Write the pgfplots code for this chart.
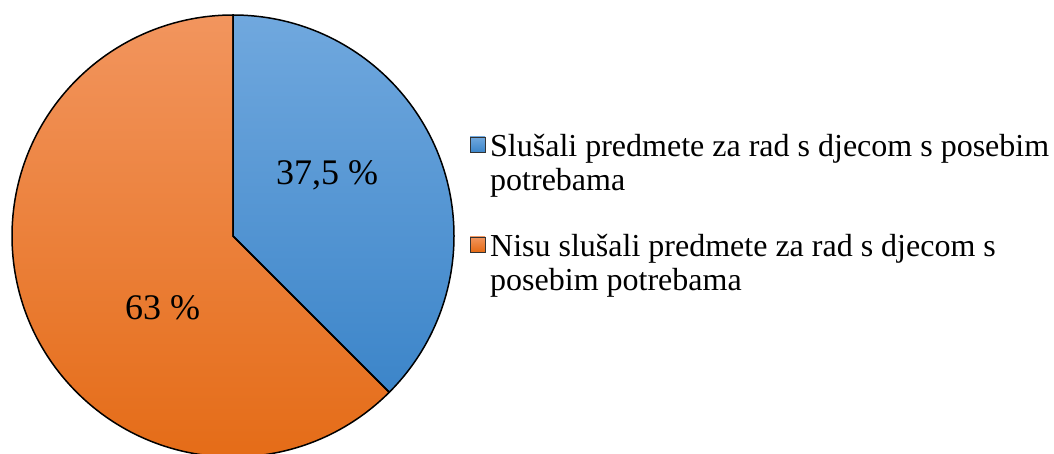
\documentclass[border=0pt]{standalone}
\usepackage{pgfplots}
\pgfplotsset{compat=1.18}
\usepackage{pgfplotstable}
\usepackage{fontspec}
\setmainfont{Liberation Serif}
\definecolor{bluetop}{HTML}{70A8DE}
\definecolor{bluebot}{HTML}{3C85C9}
\definecolor{orangetop}{HTML}{F2955E}
\definecolor{orangebot}{HTML}{E46A14}
\pgfplotstableread{
share
37.5
62.5
}\piedata
\begin{document}
\begin{tikzpicture}
\pgfplotstablegetelem{0}{share}\of\piedata \let\shareA\pgfplotsretval
\pgfplotstablegetelem{1}{share}\of\piedata \let\shareB\pgfplotsretval
\pgfmathsetmacro{\angA}{90-3.6*\shareA}
\pgfmathsetmacro{\angB}{\angA-3.6*\shareB}
\begin{axis}[width=1054pt,height=454pt,scale only axis,
  xmin=0,xmax=1054,ymin=0,ymax=454,axis lines=none,clip=true]
\fill[top color=bluetop,bottom color=bluebot]
  (axis cs:233,218) -- ++(90:221pt) arc[start angle=90,end angle=\angA,radius=221pt] -- cycle;
\fill[top color=orangetop,bottom color=orangebot]
  (axis cs:233,218) -- ++(\angA:221pt) arc[start angle=\angA,end angle=\angB,radius=221pt] -- cycle;
\draw[line width=1.5pt,line join=round]
  (axis cs:233,218) -- ++(90:221pt) arc[start angle=90,end angle=\angA,radius=221pt] -- cycle;
\draw[line width=1.5pt,line join=round]
  (axis cs:233,218) -- ++(\angA:221pt) arc[start angle=\angA,end angle=\angB,radius=221pt] -- cycle;
\node[anchor=base,font=\fontsize{36}{40}\selectfont] at (axis cs:327,269) {37,5 \%};
\node[anchor=base,font=\fontsize{36}{40}\selectfont] at (axis cs:162.5,134) {63 \%};
\filldraw[top color=bluetop,bottom color=bluebot,draw=black!80,line width=0.8pt]
  (axis cs:470,302) rectangle (axis cs:485,317);
\filldraw[top color=orangetop,bottom color=orangebot,draw=black!80,line width=0.8pt]
  (axis cs:470,202) rectangle (axis cs:485,217);
\begin{scope}[every node/.style={anchor=base west,inner sep=0pt,font=\fontsize{32}{35}\selectfont}]
\node at (axis cs:490,297) {Slušali predmete za rad s djecom s posebim};
\node at (axis cs:490,263) {potrebama};
\node at (axis cs:490,197) {Nisu slušali predmete za rad s djecom s};
\node at (axis cs:490,163) {posebim potrebama};
\end{scope}
\end{axis}
\pgfresetboundingbox
\useasboundingbox (current axis.south west) rectangle (current axis.north east);
\end{tikzpicture}
\end{document}
